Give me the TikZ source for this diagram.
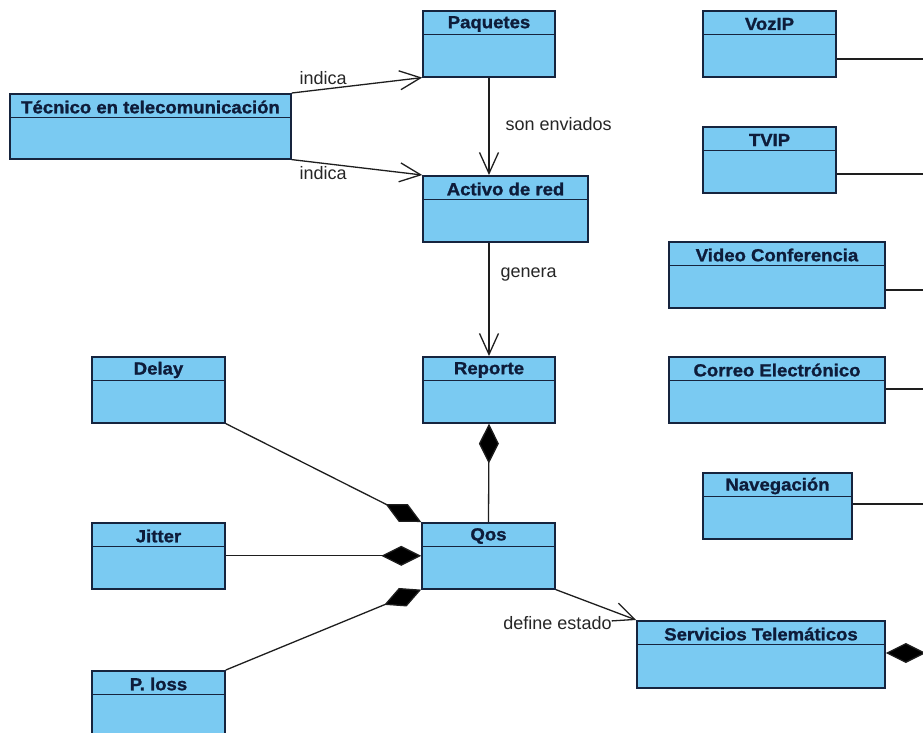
\documentclass[tikz,border=0pt]{standalone}
\usepackage{fontspec}
\setmainfont{Liberation Sans}
\newfontfamily\titlefont[FakeStretch=1.06, FakeBold=1.2]{Liberation Sans Bold}
\usetikzlibrary{arrows.meta}

\definecolor{clsfill}{RGB}{122,202,242}
\definecolor{clsedge}{RGB}{22,36,62}
\definecolor{clstext}{RGB}{14,28,58}
\definecolor{linkcol}{RGB}{30,30,30}

\tikzset{
  clsbox/.style={draw=clsedge, fill=clsfill, line width=1.6pt, inner sep=0pt, anchor=north},
  clsline/.style={draw=clsedge, line width=1.4pt},
  clstitle/.style={text=clstext, font=\titlefont\fontsize{17.5}{20}\selectfont, inner sep=0pt},
  lbl/.style={text=black!85, font=\fontsize{18}{20}\selectfont, inner sep=0pt},
  link/.style={draw=linkcol, line width=1.3pt},
  navarrow/.style={link, -{Straight Barb[length=21pt, width=19pt, line width=1.3pt]}},
  partof/.style={link, -{Diamond[length=40pt, width=20pt, fill=black]}},
  partfrom/.style={link, {Diamond[length=40pt, width=20pt, fill=black]}-},
}

% class box: name, centre x, top y, width, height, title
\newcommand\umlclass[6]{%
  \node[clsbox, minimum width=#4pt, minimum height=#5pt] (#1) at (#2,#3) {};
  \draw[clsline] ([yshift=-24.5pt]#1.north west) -- ([yshift=-24.5pt]#1.north east);
  \node[clstitle] at ([yshift=-14pt]#1.north) {#6};
}

\begin{document}
\begin{tikzpicture}[x=1pt, y=-1pt]
  \useasboundingbox (0,0) rectangle (923,732);
  \clip (0,0) rectangle (923,732);
  \fill[white] (0,0) rectangle (923,732);

  % classes
  \umlclass{tec}{150.5}{93}{281}{65}{Técnico en telecomunicación}
  \umlclass{paq}{489}{10}{132}{66}{Paquetes}
  \umlclass{act}{505.5}{175}{165}{66}{Activo de red}
  \umlclass{rep}{489}{356}{132}{66}{Reporte}
  \umlclass{qos}{488.5}{522}{133}{66}{Qos}
  \umlclass{delay}{158.5}{356}{133}{66}{Delay}
  \umlclass{jit}{158.5}{522}{133}{66}{Jitter}
  \umlclass{ploss}{158.5}{670}{133}{66}{P. loss}
  \umlclass{voz}{769.5}{10}{133}{66}{VozIP}
  \umlclass{tvip}{769.5}{126}{133}{66}{TVIP}
  \umlclass{video}{777}{241}{216}{66}{Video Conferencia}
  \umlclass{correo}{777}{356}{216}{66}{Correo Electrónico}
  \umlclass{nav}{777.5}{472}{149}{66}{Navegación}
  \umlclass{serv}{761}{620}{248}{67}{Servicios Telemáticos}

  % free ends of the links leaving on the right
  \coordinate (vozR) at (925,59);
  \coordinate (tvipR) at (925,174);
  \coordinate (videoR) at (925,290);
  \coordinate (correoR) at (925,389);
  \coordinate (navR) at (925,504);
  \coordinate (servR) at (942,653);

  % navigable associations
  \draw[navarrow] (tec.north east) -- node[lbl, pos=0.24, above=4pt] {indica} (paq.south west);
  \draw[navarrow] (tec.south east) -- node[lbl, pos=0.24, below=3pt] {indica} (act.north west);
  \draw[navarrow] (paq.south) -- node[lbl, pos=0.48, right=16pt] {son enviados} (paq.south |- act.north);
  \draw[navarrow] (rep.north |- act.south) -- node[lbl, pos=0.28, right=11pt] {genera} (rep.north);
  \draw[navarrow] (qos.south east) -- (serv.north west)
    node[lbl, at end, anchor=east, xshift=-24pt, yshift=-3pt] {define estado};

  % compositions
  \draw[partof] (qos.north) -- (rep.south);
  \draw[partof] (delay.south east) -- (qos.north west);
  \draw[partof] (jit.east) -- (qos.west);
  \draw[partof] (ploss.north east) -- (qos.south west);
  \draw[partfrom] (serv.east |- servR) -- (servR);

  % plain links
  \draw[link] (voz.east |- vozR) -- (vozR);
  \draw[link] (tvip.east |- tvipR) -- (tvipR);
  \draw[link] (video.east |- videoR) -- (videoR);
  \draw[link] (correo.east |- correoR) -- (correoR);
  \draw[link] (nav.east |- navR) -- (navR);
\end{tikzpicture}
\end{document}
